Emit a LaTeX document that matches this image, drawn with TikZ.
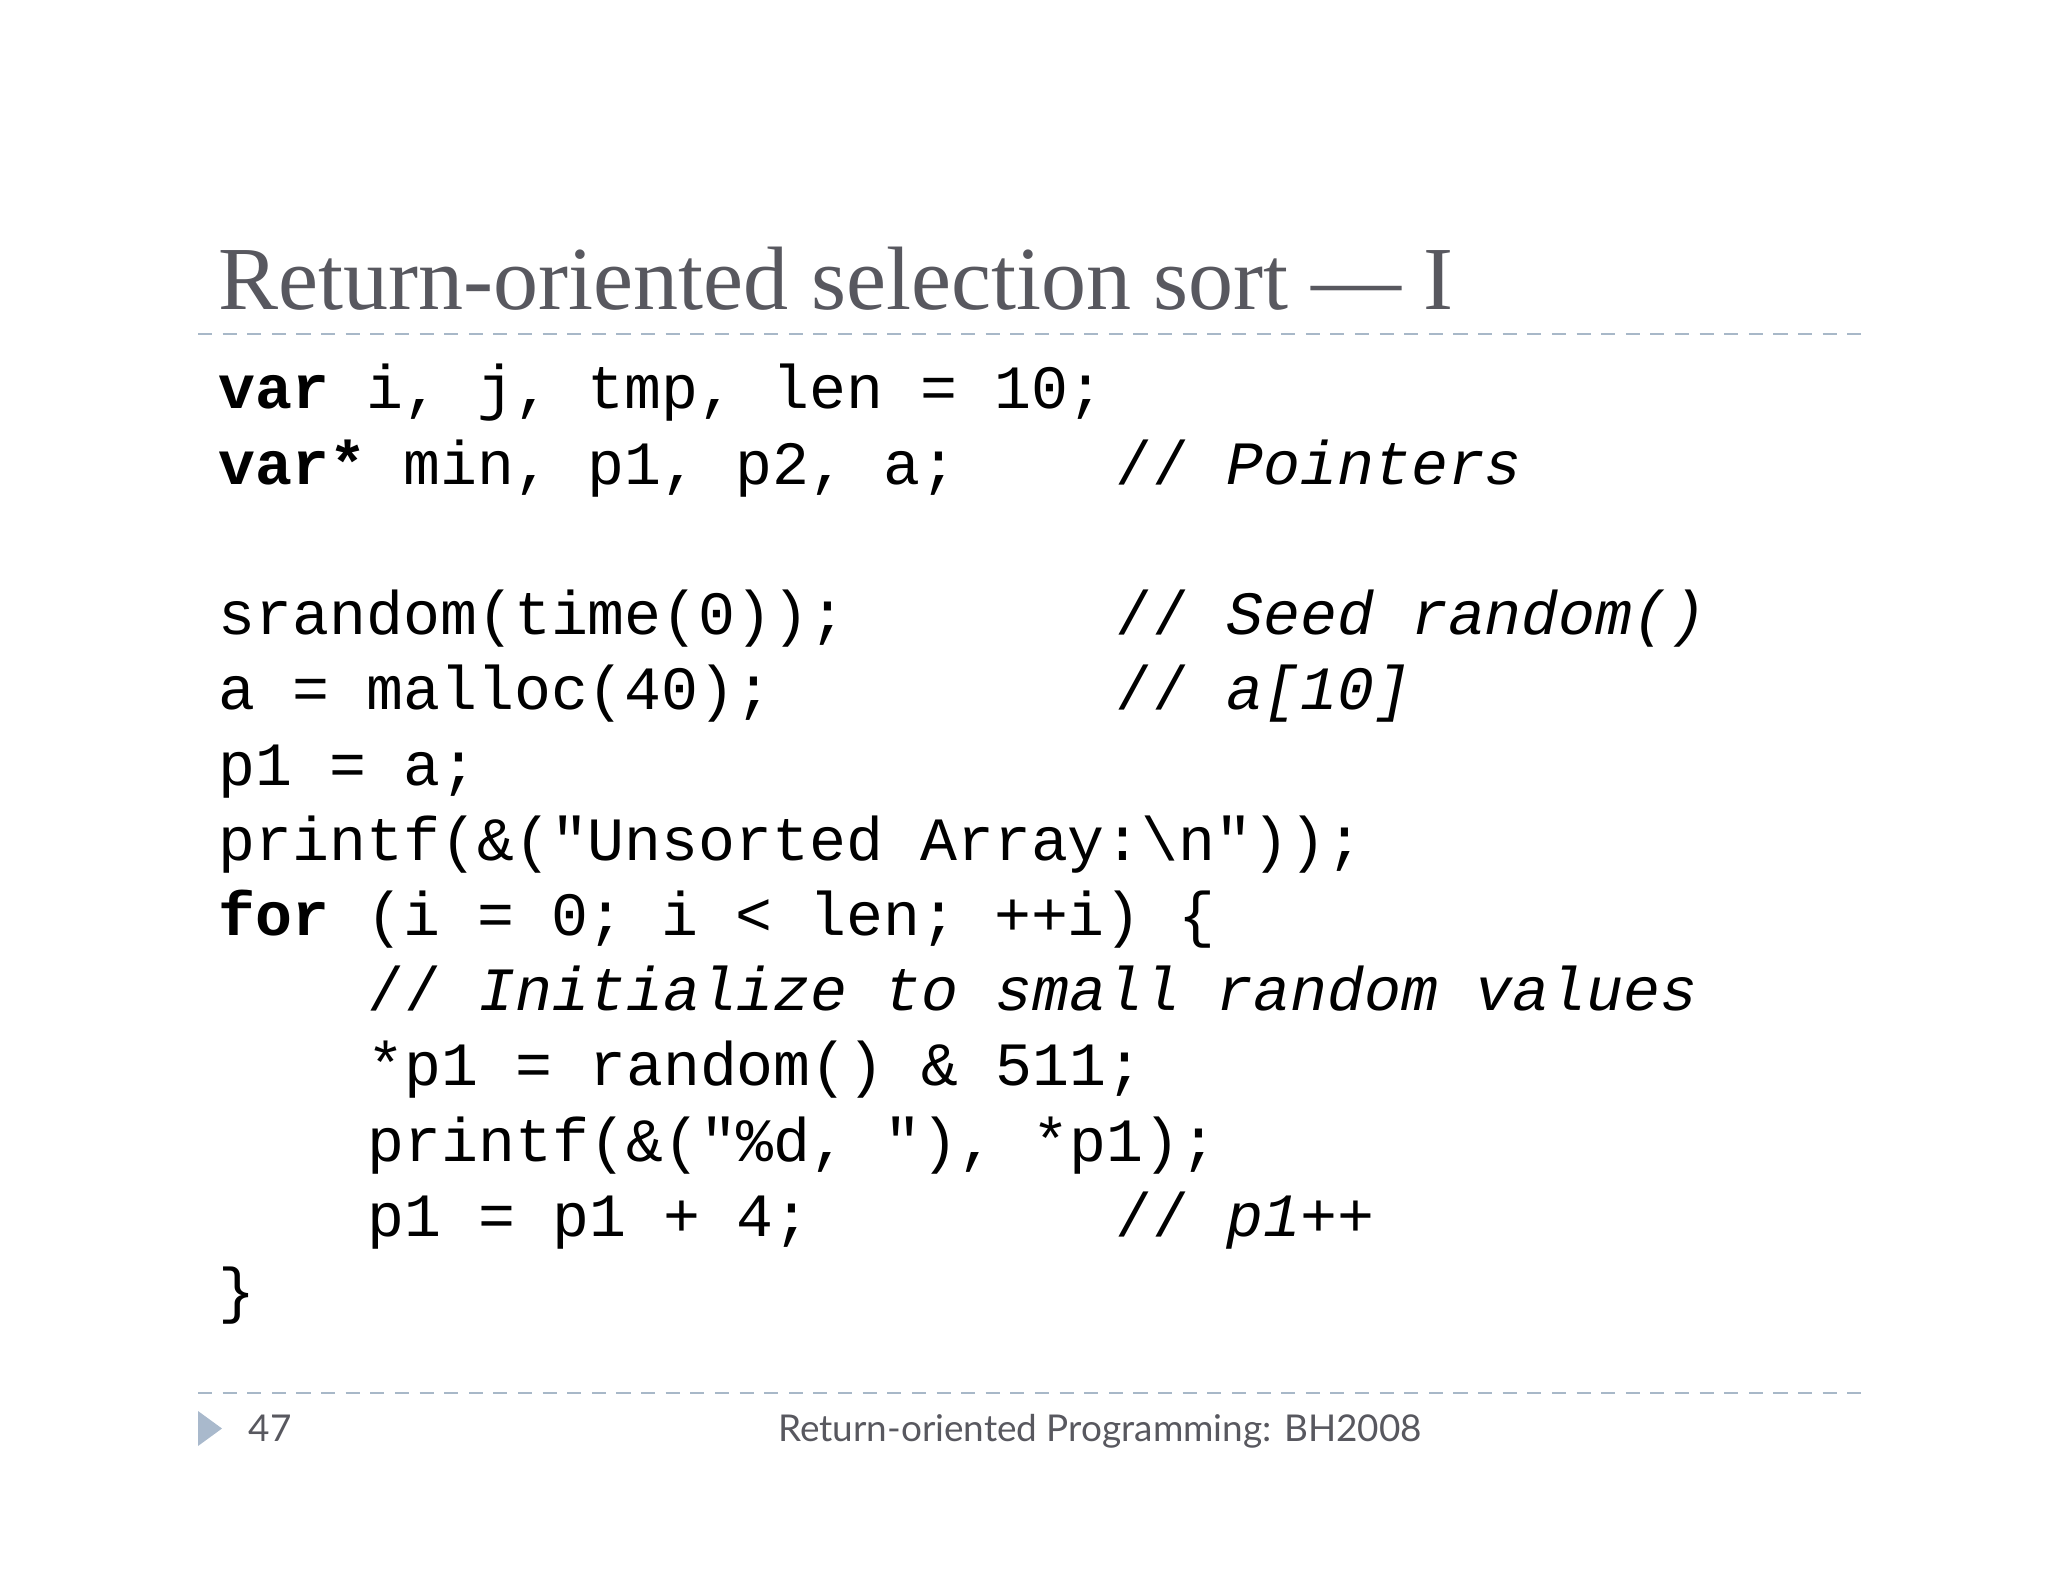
\documentclass[tikz,border=0pt]{standalone}
\usepackage{fontspec}
\setmainfont{Liberation Serif}
\setmonofont{Liberation Mono}
\newfontfamily\footfont{Lato}
\definecolor{titlegray}{HTML}{58585F}
\definecolor{dashblue}{HTML}{A8B8C8}
\definecolor{tri}{HTML}{A9B9CC}
\begin{document}
\begin{tikzpicture}[x=0.01cm,y=-0.01cm,
  code/.style={anchor=base west,inner sep=0,font=\ttfamily\fontsize{17.5}{20}\selectfont},
  sep/.style={draw=dashblue,dashed,line width=0.8pt,dash pattern=on 4pt off 3pt}]
\useasboundingbox (0,0) rectangle (2048,1582);
\node[anchor=base west,inner sep=0,text=titlegray,font=\fontsize{25.6}{30}\selectfont] (title) at (218,310) {Return-oriented selection sort — I};
\coordinate (l1a) at (198,334); \coordinate (l1b) at (1871,334);
\draw[sep] (l1a) -- (l1b);
\def\Y#1{409+75.2*#1}
\node[code] (c0) at (218,{\Y0}) {\textbf{var} i, j, tmp, len = 10;};
\node[code] (c1) at (218,{\Y1}) {\textbf{var*} min, p1, p2, a;};
\node[code] (m1) at (1115,{\Y1}) {// \textit{Pointers}};
\node[code] (c3) at (218,{\Y3}) {srandom(time(0));};
\node[code] (m3) at (1115,{\Y3}) {// \textit{Seed random()}};
\node[code] (c4) at (218,{\Y4}) {a = malloc(40);};
\node[code] (m4) at (1115,{\Y4}) {// \textit{a[10]}};
\node[code] (c5) at (218,{\Y5}) {p1 = a;};
\node[code] (c6) at (218,{\Y6}) {printf(\&("Unsorted Array:\textbackslash n"));};
\node[code] (c7) at (218,{\Y7}) {\textbf{for} (i = 0; i < len; ++i) \{};
\node[code] (c8) at (367,{\Y8}) {// \textit{Initialize to small random values}};
\node[code] (c9) at (367,{\Y9}) {*p1 = random() \& 511;};
\node[code] (c10) at (367,{\Y{10}}) {printf(\&("\%d, "), *p1);};
\node[code] (c11) at (367,{\Y{11}}) {p1 = p1 + 4;};
\node[code] (m11) at (1115,{\Y{11}}) {// \textit{p1++}};
\node[code] (c12) at (218,{\Y{12}}) {\}};
\coordinate (l2a) at (198,1393); \coordinate (l2b) at (1871,1393);
\draw[sep] (l2a) -- (l2b);
\fill[tri] (198,1411) -- (222,1428.5) -- (198,1446) -- cycle;
\node[anchor=base west,inner sep=0,font=\footfont\fontsize{10.5}{12}\selectfont,text=titlegray] (pg) at (248,1441) {47};
\node[anchor=base,inner sep=0,font=\footfont\fontsize{10.5}{12}\selectfont,text=titlegray] (ft) at (1100,1441) {Return-oriented Programming: BH2008};
\end{tikzpicture}
\end{document}
